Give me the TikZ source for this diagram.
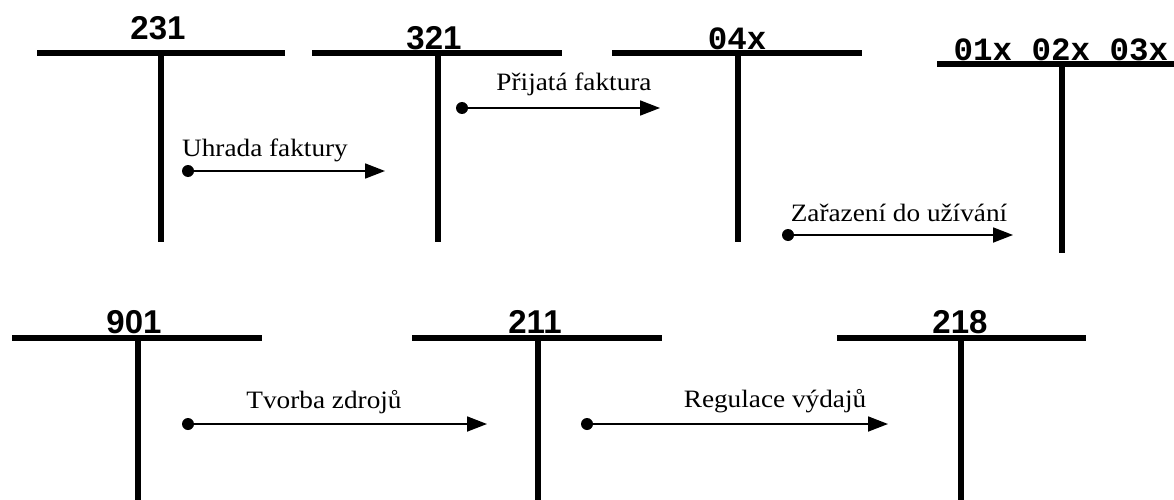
\documentclass[tikz,border=0pt]{standalone}
\usepackage{fontspec}
\setmainfont{Liberation Serif}
\newfontfamily\accsans{Liberation Sans}
\newfontfamily\acctt{Liberation Mono}
\newfontfamily\flowserif[FakeStretch=1.09]{Liberation Serif}
\usetikzlibrary{arrows.meta}

\tikzset{
    acc/.style={line width=5.5pt},
    dot/.style={circle, fill=black, inner sep=0pt, minimum size=12pt},
    flow/.style={line width=1.8pt, -{Triangle[length=20pt, width=15pt]}},
    lbl/.style={anchor=base, inner sep=0pt, font=\flowserif\fontsize{25}{25}\selectfont},
    num/.style={anchor=base, inner sep=0pt, font=\accsans\bfseries\fontsize{33}{33}\selectfont},
    code/.style={anchor=base, inner sep=0pt, font=\acctt\bfseries\fontsize{32.5}{32.5}\selectfont},
}

\begin{document}
\begin{tikzpicture}[x=1pt, y=-1pt]
        \useasboundingbox (0, 0) rectangle (1174, 500);

        % upper row of accounts
        \draw[acc] (37, 53) -- (285, 53);   \draw[acc] (161, 53) -- (161, 242);
        \draw[acc] (312, 53) -- (562, 53);  \draw[acc] (438, 53) -- (438, 242);
        \draw[acc] (612, 53) -- (862, 53);  \draw[acc] (738, 53) -- (738, 242);
        \draw[acc] (937, 64) -- (1174, 64); \draw[acc] (1062, 64) -- (1062, 253);

        \node[num] (a231) at (158, 40) {231};
        \node[num] (a321) at (434, 50) {321};
        \node[code] (a04x) at (737, 50) {04x};
        \node[code] (a0x) at (1061, 61) {01x 02x 03x};

        % lower row of accounts
        \draw[acc] (12, 338) -- (262, 338);   \draw[acc] (138, 338) -- (138, 500);
        \draw[acc] (412, 338) -- (662, 338);  \draw[acc] (538, 338) -- (538, 500);
        \draw[acc] (837, 338) -- (1086, 338); \draw[acc] (961, 338) -- (961, 500);

        \node[num] (a901) at (134, 333) {901};
        \node[num] (a211) at (535, 333) {211};
        \node[num] (a218) at (960, 333) {218};

        % postings
        \node[dot] (s1) at (188, 171) {};
        \coordinate (e1) at (385, 171);
        \draw[flow] (s1.center) -- (e1);
        \node[lbl] (t1) at (265, 156) {Uhrada faktury};

        \node[dot] (s2) at (462, 108) {};
        \coordinate (e2) at (660, 108);
        \draw[flow] (s2.center) -- (e2);
        \node[lbl] (t2) at (574, 91) {Přijatá faktura};

        \node[dot] (s3) at (788, 235) {};
        \coordinate (e3) at (1013, 235);
        \draw[flow] (s3.center) -- (e3);
        \node[lbl] (t3) at (899, 221) {Zařazení do užívání};

        \node[dot] (s4) at (188, 424) {};
        \coordinate (e4) at (487, 424);
        \draw[flow] (s4.center) -- (e4);
        \node[lbl] (t4) at (324, 408) {Tvorba zdrojů};

        \node[dot] (s5) at (587, 424) {};
        \coordinate (e5) at (888, 424);
        \draw[flow] (s5.center) -- (e5);
        \node[lbl] (t5) at (775, 407) {Regulace výdajů};
\end{tikzpicture}
\end{document}
